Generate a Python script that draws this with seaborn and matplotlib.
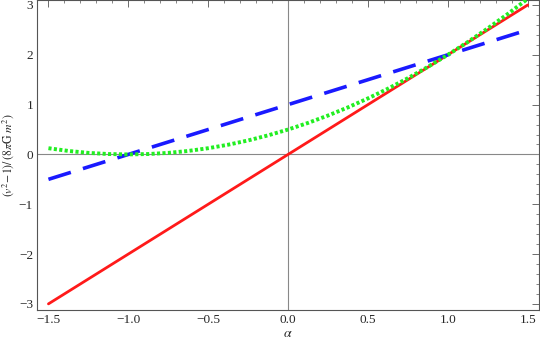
import matplotlib
matplotlib.use("Agg")
import matplotlib.pyplot as plt
import seaborn as sns
import pandas as pd
from matplotlib.ticker import MultipleLocator

sns.set_theme(style="white")
plt.rcParams['font.family'] = ['Liberation Serif', 'DejaVu Serif']
plt.rcParams['mathtext.fontset'] = 'stix'

# Data
alpha_red = [-1.5, 1.5]
red_vals = [-3.0, 3.0]
alpha_blue = [-1.5, 1.5]
blue_vals = [-0.5, 2.5]
alpha_green = [-1.5, -1.375, -1.25, -1.125, -1.0, -0.875, -0.75, -0.625, -0.5, -0.375,
               -0.25, -0.125, 0.0, 0.125, 0.25, 0.375, 0.5, 0.625, 0.75, 0.875,
               1.0, 1.125, 1.25, 1.375, 1.5]
green_vals = [0.125, 0.07, 0.031, 0.008, 0.0, 0.008, 0.031, 0.07, 0.125, 0.195,
              0.281, 0.383, 0.5, 0.633, 0.781, 0.945, 1.125, 1.32, 1.531, 1.758,
              2.0, 2.258, 2.531, 2.82, 3.125]

x_ticks = [-1.5, -1.0, -0.5, 0.0, 0.5, 1.0, 1.5]
x_labels = ["\u22121.5", "\u22121.0", "\u22120.5", "0.0", "0.5", "1.0", "1.5"]
y_ticks = [-3, -2, -1, 0, 1, 2, 3]
y_labels = ["\u22123", "\u22122", "\u22121", "0", "1", "2", "3"]

fig = plt.figure(figsize=(5.4, 3.42), dpi=100)
ax = fig.add_axes([0.069, 0.094, 0.929, 0.906])

ax.axhline(0, color='#888888', lw=0.8, zorder=1)
ax.axvline(0, color='#888888', lw=0.8, zorder=1)

df_r = pd.DataFrame({'a': alpha_red, 'v': red_vals})
df_b = pd.DataFrame({'a': alpha_blue, 'v': blue_vals})
df_g = pd.DataFrame({'a': alpha_green, 'v': green_vals})

sns.lineplot(data=df_r, x='a', y='v', ax=ax, color='#ff1a1a', lw=2.0, zorder=3)
sns.lineplot(data=df_b, x='a', y='v', ax=ax, color='#1a1aff', lw=2.6, zorder=3,
             linestyle=(0, (6.5, 3.5)))
sns.lineplot(data=df_g, x='a', y='v', ax=ax, color='#22ee22', lw=2.8, zorder=4,
             linestyle=(0, (0.8, 0.6)))

ax.set_xlim(-1.57, 1.57)
ax.set_ylim(-3.12, 3.1)
ax.set_xticks(x_ticks)
ax.set_xticklabels(x_labels)
ax.set_yticks(y_ticks)
ax.set_yticklabels(y_labels)
ax.xaxis.set_minor_locator(MultipleLocator(0.1))
ax.yaxis.set_minor_locator(MultipleLocator(0.2))
ax.tick_params(which='both', direction='in', top=True, right=True, labelsize=9.5,
               color='#555555', pad=3)
ax.tick_params(which='major', length=5, width=0.6)
ax.tick_params(which='minor', length=2.5, width=0.5)
for s in ax.spines.values():
    s.set_color('#555555')
    s.set_linewidth(0.8)

ax.set_xlabel(r'$\alpha$', fontsize=10, labelpad=1)
ax.set_ylabel(r'$(v^2\!-\!1)/\,(8\pi \mathrm{G}\ m^2)$', fontsize=8.5, labelpad=2)

fig.savefig('out.png', dpi=100)
